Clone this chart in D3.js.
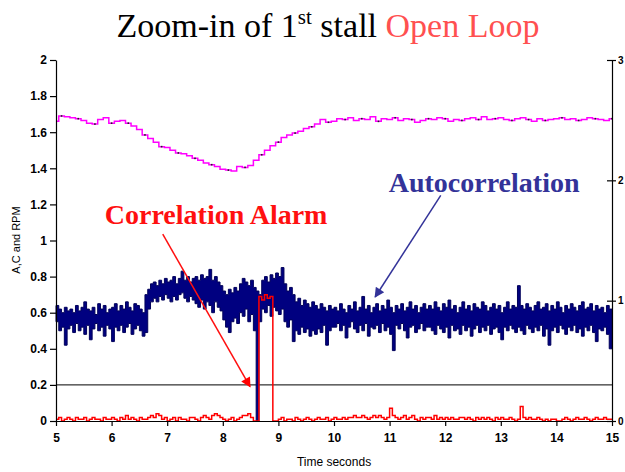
<!DOCTYPE html>
<html><head><meta charset="utf-8">
<script src="https://cdn.jsdelivr.net/npm/d3@7"></script>
<style>
body{margin:0;background:#fff;}
svg{display:block;}
</style></head>
<body>
<svg id="chart" width="625" height="472"></svg>
<script>
// ---------- DATA ----------
const xTicks = [5,6,7,8,9,10,11,12,13,14,15];
const yLeftTicks = [0,0.2,0.4,0.6,0.8,1,1.2,1.4,1.6,1.8,2];
const yRightTicks = [0,1,2,3];
const thresholdLevel = 0.2;

// RPM (magenta), sampled every 0.1 s from t=5
const rpmStart = 5, rpmStep = 0.1;
const rpm = [1.66,1.69,1.685,1.68,1.675,1.665,1.65,1.645,1.67,1.68,
1.65,1.66,1.665,1.65,1.635,1.615,1.585,1.565,1.545,1.52,
1.515,1.50,1.485,1.48,1.47,1.455,1.445,1.43,1.42,1.41,
1.395,1.39,1.385,1.41,1.405,1.415,1.445,1.475,1.50,1.525,
1.545,1.57,1.585,1.595,1.605,1.62,1.63,1.645,1.67,1.655,
1.66,1.675,1.67,1.68,1.665,1.675,1.67,1.685,1.66,1.675,
1.67,1.68,1.665,1.675,1.67,1.655,1.665,1.675,1.67,1.68,
1.675,1.66,1.67,1.665,1.675,1.68,1.67,1.685,1.67,1.675,
1.68,1.67,1.665,1.675,1.68,1.67,1.66,1.675,1.665,1.67,
1.675,1.68,1.67,1.675,1.665,1.67,1.68,1.675,1.67,1.665,1.675];

// Autocorrelation band (upper / lower envelope), bins of 0.05 s from t=5
const acStart = 5, acStep = 0.05;
const acHigh = [
.64,.62,.60,.63,.61,.62,.60,.64,.61,.63,
.66,.62,.61,.63,.59,.65,.62,.64,.60,.62,
.63,.65,.61,.64,.62,.66,.63,.61,.65,.64,.62,.60,
.70,.73,.76,
.77,.75,.78,.76,.79,.77,.78,.80,.76,.79,.83,.78,.80,.77,.79,
.80,.78,.81,.79,.80,.84,.78,.80,.77,.75,
.72,.70,.73,.71,.74,.72,
.76,.79,.77,.75,.78,.74,
.72,.70,
.78,.80,.77,.81,.79,.82,.80,.85,
.76,.72,.74,.70,
.66,.68,.64,.67,.65,.63,.66,.64,
.62,.65,.63,.61,.64,.62,
.63,.61,.65,.62,.60,.64,.62,.66,.61,.63,.69,.62,.64,.60,.63,.65,.61,.64,.62,.67,.63,.60,.64,.62,.65,.61,.63,.66,.62,.64,.60,.63,.65,.62,
.64,.62,.66,.63,.61,.65,.63,.67,.62,.64,
.60,.63,.66,.62,.64,.61,.65,.63,.62,.66,
.64,.61,.63,.65,.62,.64,.60,.63,.66,.62,
.64,.63,.75,.64,.62,.65,.63,.61,.64,.66,
.62,.63,.65,.61,.64,.62,.66,.63,.60,.64,
.62,.65,.63,.61,.64,.66,.62,.63,.65,.61,
.64,.62,.63,.60,.64,.62];
const acLow = [
.55,.50,.52,.42,.51,.53,.49,.54,.50,.52,
.48,.53,.45,.51,.54,.50,.52,.47,.53,.51,
.44,.52,.50,.53,.49,.52,.54,.48,.51,.53,.50,.47,
.49,.62,.66,
.68,.66,.69,.67,.70,.68,.66,.69,.67,.70,.71,.68,.66,.69,.67,
.65,.63,.67,.62,.66,.64,.60,.66,.63,.61,
.56,.52,.49,.55,.57,.54,
.60,.58,.62,.55,.59,.50,
.00,.55,
.62,.60,.64,.58,.63,.61,.59,.62,
.55,.52,.56,.44,
.50,.48,.52,.49,.51,.47,.50,.48,
.51,.49,.53,.42,.50,.52,
.52,.54,.50,.53,.46,.52,.55,.51,.49,.53,.50,.54,.47,.52,.51,.53,.49,.54,.50,.52,.48,.39,.53,.51,.54,.50,.46,.52,.53,.49,.51,.54,.50,.52,
.52,.50,.48,.53,.51,.49,.52,.46,.53,.50,
.51,.48,.53,.50,.52,.47,.51,.53,.49,.52,
.50,.53,.48,.51,.52,.49,.45,.52,.50,.53,
.51,.49,.52,.50,.48,.53,.51,.49,.52,.50,
.53,.47,.51,.42,.50,.52,.49,.53,.51,.48,
.52,.50,.53,.49,.51,.47,.52,.50,.53,.49,
.44,.51,.50,.52,.48,.40];

// Correlation alarm (red), bins of 0.05 s from t=5
const alarm = [
.01,.02,.00,.01,.02,.01,.00,.02,.01,.01,.02,.00,.01,.02,.01,.01,.00,.02,.01,.01,
.02,.01,.00,.02,.01,.03,.01,.02,.01,.00,.02,.01,.01,.02,.03,.02,.04,.03,.01,.02,
.00,.01,.02,.00,.02,.01,.01,.00,.02,.02,.01,.00,.02,.03,.02,.01,.03,.04,.03,.02,
.01,.00,.01,.02,.00,.01,.02,.03,.03,.04,.02,.00,.00,.69,.67,.70,.68,.69,.00,.00,
.01,.02,.00,.01,.01,.00,.02,.01,.00,.01,.02,.01,.00,.01,.02,.01,.01,.02,.00,.01,
.02,.01,.01,.02,.01,.02,.02,.03,.02,.02,.03,.02,.01,.02,.03,.02,.03,.02,.01,.02,
.07,.03,.02,.01,.02,.03,.01,.02,.03,.01,.00,.02,.01,.02,.02,.01,.03,.01,.02,.01,
.02,.01,.02,.01,.01,.02,.02,.01,.02,.01,.00,.02,.01,.02,.01,.02,.01,.00,.02,.01,
.02,.01,.01,.02,.01,.00,.01,.08,.02,.01,.02,.01,.01,.02,.01,.00,.01,.00,.01,.01,
.00,.00,.01,.02,.01,.00,.01,.02,.01,.01,.02,.01,.00,.01,.02,.01,.01,.02,.01,.01];

// annotations: text position and arrow ends in data units
const titleParts = ["Zoom-in of 1", "st", " stall ", "Open Loop"];
const annAlarm = {text:"Correlation Alarm", tx:7.88, ty:1.09, x1:6.92, y1:1.035, x2:8.49, y2:0.19};
const annAuto  = {text:"Autocorrelation", tx:12.7, ty:1.27, x1:11.92, y1:1.25, x2:10.74, y2:0.687};

// ---------- LAYOUT ----------
const svg = d3.select("#chart");
const L = 56, R = 612, T = 60, B = 421;
const x = d3.scaleLinear().domain([5,15]).range([L,R]);
const y = d3.scaleLinear().domain([0,2]).range([B,T]);
const yR = d3.scaleLinear().domain([0,3]).range([B,T]);

// title
const title = svg.append("text").attr("x", 328).attr("y", 37)
  .attr("text-anchor","middle")
  .style("font-family","'Liberation Serif','Times New Roman',serif")
  .style("font-size","34px");
title.append("tspan").text(titleParts[0]);
title.append("tspan").attr("dy",-13).style("font-size","21px").text(titleParts[1]);
title.append("tspan").attr("dy",13).text(titleParts[2]);
title.append("tspan").attr("fill","#ff5050").text(titleParts[3]);

// threshold line
svg.append("line").attr("x1",L).attr("x2",R)
  .attr("y1",y(thresholdLevel)).attr("y2",y(thresholdLevel))
  .attr("stroke","#000").attr("stroke-width",1);

// RPM line
const rpmPts = rpm.map((v,i)=>[rpmStart+i*rpmStep, v]);
svg.append("path").datum(rpmPts)
  .attr("d", d3.line().x(d=>x(d[0])).y(d=>y(d[1])).curve(d3.curveStep))
  .attr("fill","none").attr("stroke","#ff00ff").attr("stroke-width",1.5);
svg.append("g").selectAll("rect").data(rpmPts.filter((d,i)=>i%3===1))
  .join("rect").attr("x",d=>x(d[0])-0.8).attr("y",d=>y(d[1])-0.8)
  .attr("width",1.6).attr("height",1.6).attr("fill","#222");

// autocorrelation band
const acPts = acHigh.map((h,i)=>({t:acStart+i*acStep, h:h, l:acLow[i]}));
acPts.push({t:acStart+acHigh.length*acStep, h:acHigh[acHigh.length-1], l:acLow[acLow.length-1]});
svg.append("path").datum(acPts)
  .attr("d", d3.area().x(d=>x(d.t)).y0(d=>y(d.l)).y1(d=>y(d.h)).curve(d3.curveStepAfter))
  .attr("fill","#000080").attr("stroke","#00005a").attr("stroke-width",1);

// alarm line
const alPts = alarm.map((v,i)=>[acStart+i*acStep, v]);
alPts.push([acStart+alarm.length*acStep, alarm[alarm.length-1]]);
svg.append("path").datum(alPts)
  .attr("d", d3.line().x(d=>x(d[0])).y(d=>y(d[1])).curve(d3.curveStepAfter))
  .attr("fill","none").attr("stroke","#ff0000").attr("stroke-width",1.5);

// axes
const fontAx = "'Liberation Sans Narrow','Arial Narrow','Liberation Sans',Arial,sans-serif";
const gx = svg.append("g").attr("transform",`translate(0,${B})`)
  .call(d3.axisBottom(x).tickValues(xTicks).tickFormat(d3.format("d")).tickSize(5).tickSizeOuter(0));
const gl = svg.append("g").attr("transform",`translate(${L},0)`)
  .call(d3.axisLeft(y).tickValues(yLeftTicks).tickFormat(d=>String(d)).tickSize(6).tickSizeOuter(0));
const gr = svg.append("g").attr("transform",`translate(${R},0)`)
  .call(d3.axisRight(yR).tickValues(yRightTicks).tickFormat(d3.format("d")).tickSize(4).tickSizeOuter(0));
gr.selectAll(".tick line").attr("x1",-5);
[gx,gl,gr].forEach(g=>{
  g.select(".domain").attr("stroke","#000").attr("stroke-width",1.2);
  g.selectAll(".tick line").attr("stroke","#000").attr("stroke-width",1.2);
  g.selectAll(".tick text").attr("fill","#000")
    .style("font-family",fontAx).style("font-size","12px").style("font-weight","bold");
});
gx.selectAll(".tick text").attr("dy","1.1em");
gl.selectAll(".tick text").attr("x",-9);
gr.selectAll(".tick text").attr("x",6).style("font-size","10px");

// axis titles
svg.append("text").attr("transform","translate(20,240) rotate(-90)")
  .attr("text-anchor","middle").style("font-family","'Liberation Sans',Arial,sans-serif")
  .style("font-size","11px").text("A,C and RPM");
svg.append("text").attr("x",334).attr("y",466).attr("text-anchor","middle")
  .style("font-family","'Liberation Sans',Arial,sans-serif")
  .style("font-size","12px").text("Time seconds");

// annotations
const defs = svg.append("defs");
function marker(id,color){
  defs.append("marker").attr("id",id).attr("viewBox","0 0 10 10").attr("refX",9).attr("refY",5)
    .attr("markerWidth",12).attr("markerHeight",10).attr("markerUnits","userSpaceOnUse").attr("orient","auto")
    .append("path").attr("d","M0,0 L10,5 L0,10 z").attr("fill",color);
}
marker("arrRed","#ff0000");
marker("arrBlue","#333399");
function annotate(a,color,mid){
  svg.append("text").attr("x",x(a.tx)).attr("y",y(a.ty)).attr("text-anchor","middle")
    .style("font-family","'Liberation Serif','Times New Roman',serif")
    .style("font-size","28px").style("font-weight","bold").attr("fill",color).text(a.text);
  svg.append("line").attr("x1",x(a.x1)).attr("y1",y(a.y1)).attr("x2",x(a.x2)).attr("y2",y(a.y2))
    .attr("stroke",color).attr("stroke-width",1.5).attr("marker-end",`url(#${mid})`);
}
annotate(annAlarm,"#ff1010","arrRed");
annotate(annAuto,"#333399","arrBlue");
</script>
</body></html>
